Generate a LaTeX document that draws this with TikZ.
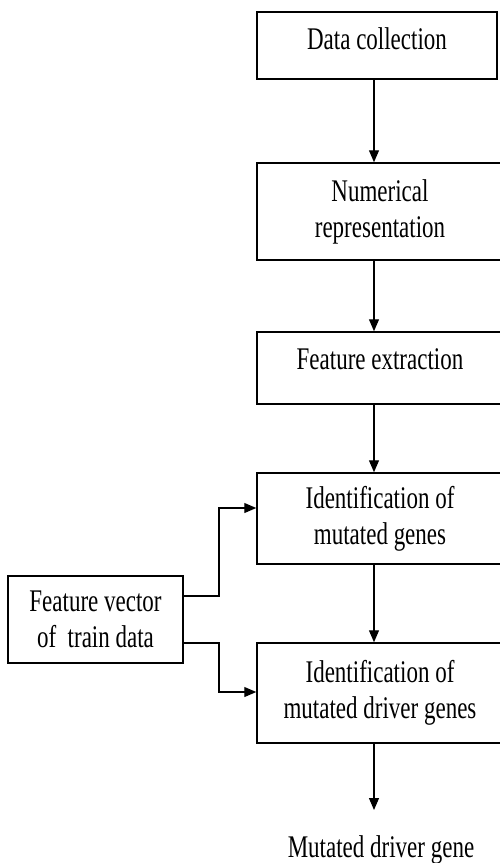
\documentclass[tikz,border=0pt]{standalone}
\usepackage{fontspec}
\setmainfont{Liberation Serif}[FakeStretch=0.73]
\usetikzlibrary{arrows.meta}
\begin{document}
\begin{tikzpicture}[x=1pt,y=-1pt,
  font=\fontsize{31.5}{36}\selectfont,
  box/.style={draw,line width=1.5pt,inner sep=0pt,align=center},
  arr/.style={line width=1.1pt,-{Triangle[length=12pt,width=10pt]}}]
\useasboundingbox (0,0) rectangle (499,863);
\node[box,minimum width=240pt,minimum height=67pt,text height=21pt,text depth=14pt] (b1) at (377,45.5) {Data collection};
\node[box,minimum width=246pt,minimum height=97pt] (b2) at (380,211.5) {Numerical\\representation};
\node[box,minimum width=246pt,minimum height=72pt,text height=21pt,text depth=19pt] (b3) at (380,368) {Feature extraction};
\node[box,minimum width=246pt,minimum height=91pt] (b4) at (380,518.5) {Identification of\\mutated genes};
\node[box,minimum width=246pt,minimum height=100pt] (b5) at (380,693) {Identification of\\mutated driver genes};
\node[box,minimum width=175pt,minimum height=87pt] (L) at (95.5,619.5) {Feature vector\\of\ \ train data};
\node[anchor=base,inner sep=0pt] (out) at (381,857) {Mutated driver gene};
\coordinate (ax) at (374,0);
\coordinate (vx) at (219,0);
\coordinate (u1) at (0,596);
\coordinate (u2) at (0,508);
\coordinate (d1) at (0,643);
\coordinate (d2) at (0,692);
\coordinate (e5) at (374,810);
\draw[arr] (b1.south -| ax) -- (b2.north -| ax);
\draw[arr] (b2.south -| ax) -- (b3.north -| ax);
\draw[arr] (b3.south -| ax) -- (b4.north -| ax);
\draw[arr] (b4.south -| ax) -- (b5.north -| ax);
\draw[arr] (b5.south -| ax) -- (e5);
\draw[arr] (L.east |- u1) -| (vx |- u2) -- (b4.west |- u2);
\draw[arr] (L.east |- d1) -| (vx |- d2) -- (b5.west |- d2);
\end{tikzpicture}
\end{document}
